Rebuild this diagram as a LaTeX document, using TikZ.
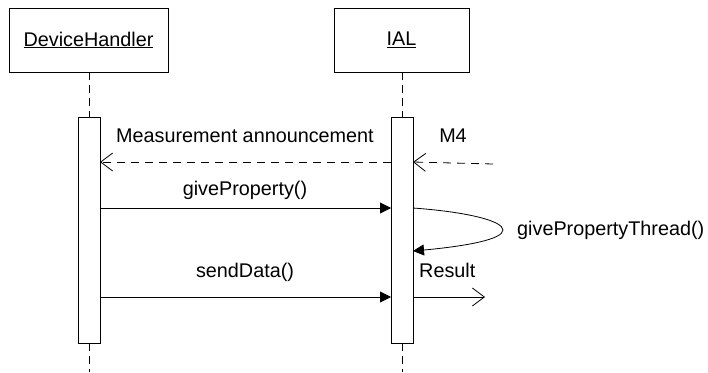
\documentclass[tikz,border=0pt]{standalone}
\usepackage{fontspec}
\setmainfont{Liberation Sans}
\usetikzlibrary{arrows.meta}
\begin{document}
\begin{tikzpicture}[x=1pt,y=-1pt,
  every node/.style={font=\fontsize{19.8}{23}\selectfont, inner sep=0pt},
  objbox/.style={draw, line width=0.8pt, minimum height=64pt},
  actbar/.style={draw, line width=0.8pt, fill=white, minimum width=22pt, minimum height=226pt},
  lifeline/.style={line width=0.8pt, dash pattern=on 8pt off 5pt},
  syncmsg/.style={line width=0.8pt, -{Triangle[length=11pt,width=11pt]}},
  retmsg/.style={line width=0.8pt, dash pattern=on 8pt off 6pt, -{Straight Barb[length=12pt,width=18pt]}},
  openmsg/.style={line width=0.8pt, -{Straight Barb[length=12pt,width=18pt]}},
  msglabel/.style={anchor=base}
]
\useasboundingbox (0,0) rectangle (708,372);
% objects
\node[objbox, minimum width=159pt] (dh) at (88.5,40) {\underline{DeviceHandler}};
\node[objbox, minimum width=135pt] (ial) at (401.5,40) {\underline{IAL}};
% activation bars
\node[actbar] (dhbar) at (89,230) {};
\node[actbar] (ialbar) at (402,230) {};
% lifeline ends
\coordinate (dhend) at (89,372);
\coordinate (ialend) at (402,372);
\draw[lifeline] (dh.south -| dhbar.north) -- (dhbar.north);
\draw[lifeline] (ial.south -| ialbar.north) -- (ialbar.north);
\draw[lifeline] (dhbar.south) -- (dhend);
\draw[lifeline] (ialbar.south) -- (ialend);
% message anchor points
\coordinate (m4start) at (493,164);
\coordinate (m4end) at (413,162);
\coordinate (maS) at (391,162);
\coordinate (maE) at (100,162);
\coordinate (gpS) at (100,208);
\coordinate (gpE) at (391,208);
\coordinate (slS) at (413,208);
\coordinate (slM) at (503,230);
\coordinate (slE) at (413,251);
\coordinate (sdS) at (100,297);
\coordinate (sdE) at (391,297);
\coordinate (rsS) at (413,297);
\coordinate (rsE) at (485,297);
% messages
\draw[retmsg] (m4start) -- (m4end);
\draw[retmsg] (maS) -- (maE);
\draw[syncmsg] (gpS) -- (gpE);
\draw[syncmsg] (slS) .. controls (468,212) and (503,221) .. (slM) .. controls (503,239) and (468,246) .. (slE);
\draw[syncmsg] (sdS) -- (sdE);
\draw[openmsg] (rsS) -- (rsE);
% labels
\node[msglabel] (lma) at (245,142) {Measurement announcement};
\node[msglabel] (lm4) at (453,142) {M4};
\node[msglabel] (lgp) at (245,195) {giveProperty()};
\node[anchor=west] (lsl) at (517,230) {givePropertyThread()};
\node[msglabel, anchor=base west] (lrs) at (419,277) {Result};
\node[msglabel] (lsd) at (245,277) {sendData()};
\end{tikzpicture}
\end{document}
